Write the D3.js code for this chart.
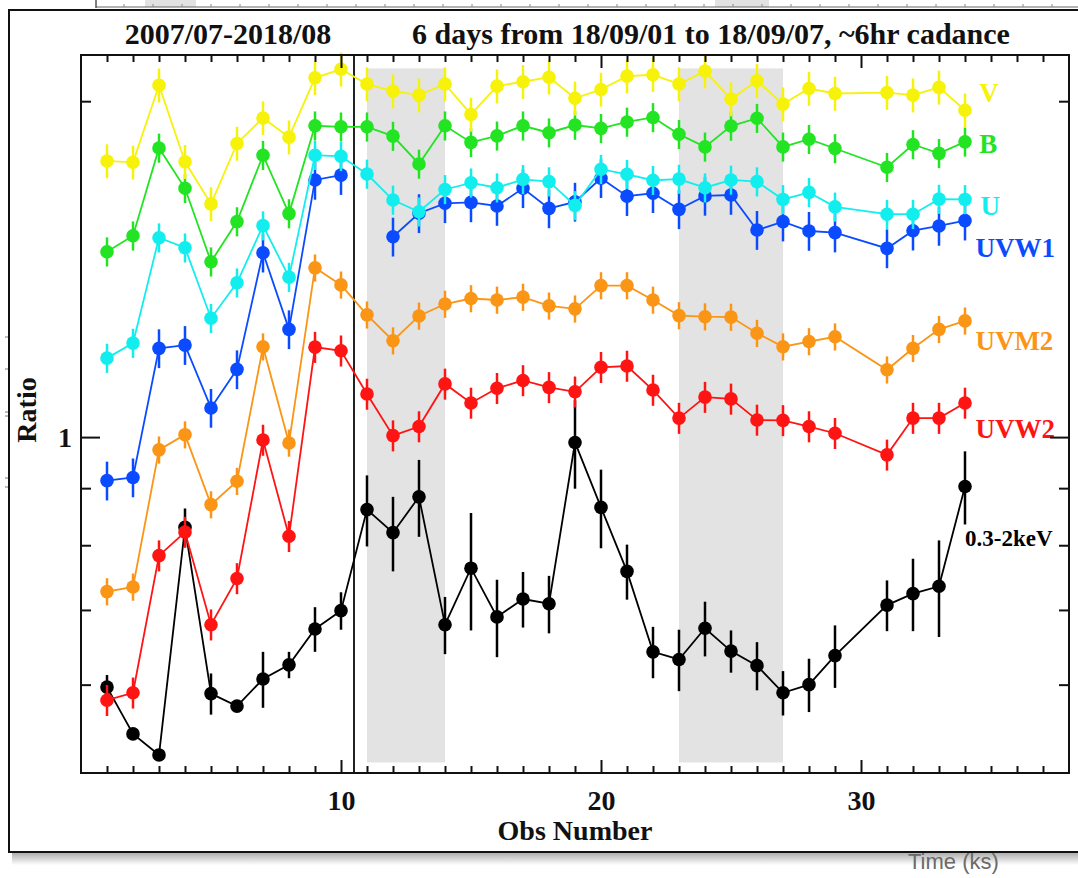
<!DOCTYPE html>
<html>
<head>
<meta charset="utf-8">
<script src="https://cdn.jsdelivr.net/npm/d3@7"></script>
<style>
  html, body { margin: 0; padding: 0; background: #fff; }
  svg { display: block; }
</style>
</head>
<body>
<div id="chart"></div>
<script>
// observation numbers (obs 30 has no data)
const obs = [1, 2, 3, 4, 5, 6, 7, 8, 9, 10, 11, 12, 13, 14, 15, 16, 17, 18, 19, 20,
             21, 22, 23, 24, 25, 26, 27, 28, 29, 31, 32, 33, 34];

// UVOT band ratios
const bandV = [1.768, 1.763, 2.067, 1.765, 1.618, 1.833, 1.932, 1.857, 2.099, 2.136, 2.072,
               2.042, 2.025, 2.072, 1.946, 2.063, 2.082, 2.101, 2.012, 2.049, 2.106, 2.112,
               2.072, 2.128, 2.009, 2.086, 1.988, 2.053, 2.032, 2.036, 2.025, 2.058, 1.963];
const bandB = [1.466, 1.515, 1.816, 1.671, 1.436, 1.560, 1.789, 1.586, 1.901, 1.897, 1.897,
               1.861, 1.757, 1.901, 1.837, 1.862, 1.901, 1.874, 1.904, 1.891, 1.916, 1.934,
               1.868, 1.820, 1.900, 1.931, 1.820, 1.849, 1.814, 1.745, 1.829, 1.796, 1.839];
const bandU = [1.177, 1.214, 1.509, 1.478, 1.278, 1.375, 1.547, 1.391, 1.789, 1.785, 1.721,
               1.631, 1.592, 1.667, 1.690, 1.673, 1.702, 1.694, 1.613, 1.738, 1.720, 1.699,
               1.703, 1.673, 1.700, 1.694, 1.633, 1.657, 1.608, 1.584, 1.584, 1.634, 1.633];
const bandUVW1 = [0.914, 0.920, 1.201, 1.209, 1.062, 1.150, 1.463, 1.249, 1.700, 1.717, null,
                  1.512, 1.587, 1.620, 1.623, 1.611, 1.671, 1.603, 1.625, 1.706, 1.644, 1.654,
                  1.600, 1.645, 1.648, 1.533, 1.560, 1.530, 1.525, 1.476, 1.531, 1.546, 1.563];
const bandUVM2 = [0.727, 0.734, 0.974, 1.005, 0.870, 0.913, 1.205, 0.988, 1.418, 1.369, 1.287,
                  1.220, 1.284, 1.316, 1.331, 1.327, 1.335, 1.311, 1.303, 1.367, 1.367, 1.327,
                  1.285, 1.282, 1.281, 1.239, 1.205, 1.218, 1.230, 1.149, 1.201, 1.249, 1.271];
const bandUVW2 = [0.581, 0.590, 0.783, 0.822, 0.679, 0.747, 0.994, 0.815, 1.204, 1.195, 1.093,
                  1.003, 1.022, 1.116, 1.073, 1.106, 1.124, 1.108, 1.098, 1.155, 1.158, 1.102,
                  1.040, 1.086, 1.082, 1.036, 1.035, 1.022, 1.008, 0.964, 1.040, 1.040, 1.073];

// X-ray 0.3-2 keV ratio and its error
const xray = [0.597, 0.542, 0.519, 0.830, 0.589, 0.574, 0.607, 0.625, 0.673, 0.699, 0.861,
              0.821, 0.884, 0.679, 0.763, 0.690, 0.716, 0.709, 0.989, 0.865, 0.758, 0.642,
              0.632, 0.674, 0.643, 0.624, 0.590, 0.600, 0.637, 0.707, 0.724, 0.735, 0.903];
const xrayErr = [0.015, 0.004, 0.004, 0.033, 0.025, 0.006, 0.035, 0.017, 0.031, 0.027, 0.063,
                 0.063, 0.070, 0.040, 0.092, 0.055, 0.041, 0.042, 0.090, 0.070, 0.043, 0.034,
                 0.040, 0.038, 0.028, 0.031, 0.027, 0.033, 0.041, 0.037, 0.054, 0.073, 0.068];

// fractional error of each UVOT band (V, B, U, UVW1, UVM2, UVW2)
const bandErrFrac = [0.035, 0.03, 0.03, 0.04, 0.028, 0.032];

// series names and where their labels sit (obs number, ratio)
const seriesNames = ['0.3-2keV', 'UVW2', 'UVM2', 'UVW1', 'U', 'B', 'V'];
const labelObs = [34.0, 34.4, 34.4, 34.4, 34.6, 34.55, 34.55];
const labelRatio = [0.798, 0.998, 1.197, 1.449, 1.581, 1.796, 1.995];

// monitoring windows shaded in grey
const shadeFrom = [11, 23];
const shadeTo = [14, 27];
const shadeRatio = [0.511, 2.14];
const splitObs = 10.5;

const xMajor = [10, 20, 30];
const yMajor = [1];
const yMinor = [0.6, 0.7, 0.8, 0.9, 2];

const titleLeft = '2007/07-2018/08';
const titleRight = '6 days from 18/09/01 to 18/09/07, ~6hr cadance';

const COLORS = {
    'V': '#f6f20a',
    'B': '#22e422',
    'U': '#12eeee',
    'UVW1': '#0a4bff',
    'UVM2': '#fb9516',
    'UVW2': '#ff1414',
    '0.3-2keV': '#000000'
};
const SERIF = '"Liberation Serif", "Times New Roman", serif';

const W = 1078, H = 878;
const svg = d3.select('#chart').append('svg')
    .attr('width', W).attr('height', H)
    .attr('viewBox', `0 0 ${W} ${H}`);

// Background remnants of the window behind
const bg = svg.append('g').attr('id', 'background');
bg.selectAll('rect.bgshade')
    .data([[145, 196], [715, 769]])
    .join('rect')
    .attr('x', d => d[0]).attr('y', 0)
    .attr('width', d => d[1] - d[0]).attr('height', 7)
    .attr('fill', '#e2e2e2');
bg.append('line').attr('x1', 96).attr('x2', W).attr('y1', 7).attr('y2', 7)
    .attr('stroke', '#666').attr('stroke-width', 1.2);
bg.append('line').attr('x1', 96).attr('x2', 96).attr('y1', 0).attr('y2', 8)
    .attr('stroke', '#555').attr('stroke-width', 1.5);
bg.selectAll('line.bgtick')
    .data(d3.range(124, W, 29))
    .join('line')
    .attr('x1', d => d).attr('x2', d => d)
    .attr('y1', 7).attr('y2', 4)
    .attr('stroke', '#888').attr('stroke-width', 1);
bg.selectAll('line.bgdash')
    .data([337, 369, 412, 416, 478, 487])
    .join('line')
    .attr('x1', 5).attr('x2', 8)
    .attr('y1', d => d).attr('y2', d => d)
    .attr('stroke', '#777').attr('stroke-width', 1);

// frame shadow + outer frame
const grad = svg.append('defs').append('linearGradient')
    .attr('id', 'shadow').attr('x1', 0).attr('x2', 0).attr('y1', 0).attr('y2', 1);
grad.append('stop').attr('offset', '0%').attr('stop-color', '#a8a8a8');
grad.append('stop').attr('offset', '100%').attr('stop-color', '#ffffff');
svg.append('rect').attr('x', 12).attr('y', 852).attr('width', W - 12).attr('height', 13)
    .attr('fill', 'url(#shadow)');
svg.append('rect').attr('x', 9).attr('y', 10).attr('width', W + 10).attr('height', 842)
    .attr('fill', '#fff').attr('stroke', '#111').attr('stroke-width', 2);

svg.append('text')
    .attr('x', 908).attr('y', 869)
    .attr('font-family', '"Liberation Sans", Arial, sans-serif')
    .attr('font-size', 22).attr('fill', '#6a6a6a')
    .text('Time (ks)');

// Scales
const x = d3.scaleLinear().domain([0, 38]).range([81, 1069]);
const y = d3.scaleLog().domain([0.5, 2.2]).range([773, 55]);

const plot = svg.append('g').attr('id', 'plot');

// Shaded windows
plot.selectAll('rect.shade')
    .data(shadeFrom.map((s, i) => [s, shadeTo[i]]))
    .join('rect')
    .attr('class', 'shade')
    .attr('x', d => x(d[0]))
    .attr('width', d => x(d[1]) - x(d[0]))
    .attr('y', y(shadeRatio[1]))
    .attr('height', y(shadeRatio[0]) - y(shadeRatio[1]))
    .attr('fill', '#e3e3e3');

// Divider between archival and campaign data
plot.append('line')
    .attr('x1', x(splitObs)).attr('x2', x(splitObs))
    .attr('y1', y.range()[1]).attr('y2', y.range()[0])
    .attr('stroke', '#222').attr('stroke-width', 2);

// Build series
const bandValues = { 'V': bandV, 'B': bandB, 'U': bandU, 'UVW1': bandUVW1, 'UVM2': bandUVM2, 'UVW2': bandUVW2 };
const bandOrder = ['V', 'B', 'U', 'UVW1', 'UVM2', 'UVW2'];

const series = seriesNames.map(name => {
    let pts;
    if (name === '0.3-2keV') {
        pts = obs.map((n, i) => ({ n, v: xray[i], lo: xray[i] - xrayErr[i], hi: xray[i] + xrayErr[i] }));
    } else {
        const vals = bandValues[name];
        const f = bandErrFrac[bandOrder.indexOf(name)];
        pts = obs.map((n, i) => ({
            n, v: vals[i],
            lo: vals[i] == null ? null : vals[i] * (1 - f),
            hi: vals[i] == null ? null : vals[i] * (1 + f)
        }));
    }
    return { name, pts };
});

const line = d3.line()
    .defined(d => d.v != null)
    .x(d => x(d.n))
    .y(d => y(d.v));

series.forEach(s => {
    const g = plot.append('g').attr('class', 'series');
    const col = COLORS[s.name];
    const pts = s.pts.filter(d => d.v != null);

    g.append('path')
        .datum(s.pts)
        .attr('d', line)
        .attr('fill', 'none')
        .attr('stroke', col)
        .attr('stroke-width', 1.8);

    g.selectAll('line.err')
        .data(pts)
        .join('line')
        .attr('class', 'err')
        .attr('x1', d => x(d.n)).attr('x2', d => x(d.n))
        .attr('y1', d => y(d.lo)).attr('y2', d => y(d.hi))
        .attr('stroke', col)
        .attr('stroke-width', 2.5);

    g.selectAll('circle')
        .data(pts)
        .join('circle')
        .attr('cx', d => x(d.n))
        .attr('cy', d => y(d.v))
        .attr('r', 6.8)
        .attr('fill', col);
});

// Series labels
plot.selectAll('text.label')
    .data(seriesNames)
    .join('text')
    .attr('class', 'label')
    .attr('x', (d, i) => x(labelObs[i]))
    .attr('y', (d, i) => y(labelRatio[i]))
    .attr('font-family', SERIF)
    .attr('font-weight', 'bold')
    .attr('font-size', d => d === '0.3-2keV' ? 23 : 27)
    .attr('fill', d => COLORS[d])
    .text(d => d);

// Axes (ticks pointing inward)
function styleAxis(g, withText) {
    g.select('.domain').remove();
    g.selectAll('line').attr('stroke', '#111').attr('stroke-width', 2);
    g.attr('font-family', SERIF).attr('font-size', 28).attr('font-weight', 'bold');
    g.selectAll('text').attr('fill', '#111');
    if (!withText) g.selectAll('text').remove();
}

const [yBottom, yTop] = y.range();
const [xLeft, xRight] = x.range();
const xMinor = d3.range(1, 38).filter(n => !xMajor.includes(n));

plot.append('g').attr('transform', `translate(0,${yBottom})`)
    .call(d3.axisBottom(x).tickValues(xMinor).tickSize(-7))
    .call(g => styleAxis(g, false));
plot.append('g').attr('transform', `translate(0,${yBottom})`)
    .call(d3.axisBottom(x).tickValues(xMajor).tickSize(-13).tickPadding(17).tickFormat(d3.format('d')))
    .call(g => styleAxis(g, true));
plot.append('g').attr('transform', `translate(0,${yTop})`)
    .call(d3.axisTop(x).tickValues(xMinor).tickSize(-7))
    .call(g => styleAxis(g, false));
plot.append('g').attr('transform', `translate(0,${yTop})`)
    .call(d3.axisTop(x).tickValues(xMajor).tickSize(-13))
    .call(g => styleAxis(g, false));

plot.append('g').attr('transform', `translate(${xLeft},0)`)
    .call(d3.axisLeft(y).tickValues(yMajor).tickSize(-19).tickPadding(9).tickFormat(d3.format('d')))
    .call(g => styleAxis(g, true));
plot.append('g').attr('transform', `translate(${xLeft},0)`)
    .call(d3.axisLeft(y).tickValues(yMinor).tickSize(-10))
    .call(g => styleAxis(g, false));
plot.append('g').attr('transform', `translate(${xRight},0)`)
    .call(d3.axisRight(y).tickValues(yMajor).tickSize(-19))
    .call(g => styleAxis(g, false));
plot.append('g').attr('transform', `translate(${xRight},0)`)
    .call(d3.axisRight(y).tickValues(yMinor).tickSize(-10))
    .call(g => styleAxis(g, false));

// Plot frame
plot.append('rect')
    .attr('x', xLeft).attr('y', yTop)
    .attr('width', xRight - xLeft).attr('height', yBottom - yTop)
    .attr('fill', 'none').attr('stroke', '#111').attr('stroke-width', 2);

// Titles and axis labels
const txt = svg.append('g')
    .attr('font-family', SERIF).attr('font-weight', 'bold').attr('fill', '#111');
txt.append('text').attr('x', 228).attr('y', 44).attr('text-anchor', 'middle')
    .attr('font-size', 30).text(titleLeft);
txt.append('text').attr('x', 711).attr('y', 44).attr('text-anchor', 'middle')
    .attr('font-size', 30).text(titleRight);
txt.append('text').attr('transform', 'translate(36,410) rotate(-90)')
    .attr('text-anchor', 'middle').attr('font-size', 28).text('Ratio');
txt.append('text').attr('x', (xLeft + xRight) / 2).attr('y', 840)
    .attr('text-anchor', 'middle').attr('font-size', 28).text('Obs Number');
</script>
</body>
</html>
